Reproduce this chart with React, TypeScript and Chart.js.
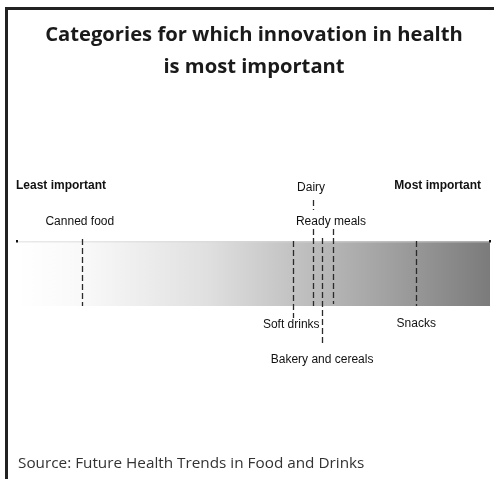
import React, { useEffect, useRef } from "react";
import { Chart, registerables } from "chart.js";

Chart.register(...registerables);

// ---- data ----
const categories = ["Canned food", "Soft drinks", "Dairy", "Bakery and cereals", "Ready meals", "Snacks"];
const scores = [13.7, 58.3, 62.6, 64.5, 66.8, 84.4];
const scaleRange = [0, 100];
const scaleEndLabels = ["Least important", "Most important"];
const titleLines = ["Categories for which innovation in health", "is most important"];
const sourceText = "Source: Future Health Trends in Food and Drinks";

// ---- styling (label placement relative to the bar, in px) ----
const placements: Record<string, { labelRef: "top" | "bottom"; labelDy: number; segs: [["top" | "bottom", number], ["top" | "bottom", number]][]; dx: number }> = {
  "Canned food": { labelRef: "top", labelDy: -19, segs: [[["top", -2], ["bottom", 0]]], dx: -2 },
  "Soft drinks": { labelRef: "bottom", labelDy: 19, segs: [[["top", 0], ["bottom", 12]]], dx: -1.5 },
  "Dairy": { labelRef: "top", labelDy: -53, segs: [[["top", -41], ["top", -31]], [["top", -12], ["bottom", 0]]], dx: -2 },
  "Bakery and cereals": { labelRef: "bottom", labelDy: 54, segs: [[["top", -3], ["bottom", 39]]], dx: 0 },
  "Ready meals": { labelRef: "top", labelDy: -19, segs: [[["top", -12], ["bottom", -2]]], dx: -2 },
  "Snacks": { labelRef: "bottom", labelDy: 18, segs: [[["top", 0], ["bottom", 0]]], dx: 0 },
};

const markersPlugin = {
  id: "markers",
  afterDatasetsDraw(chart: any) {
    const { ctx, chartArea: ca, scales } = chart;
    const xs = scales.x;
    const top = ca.top;
    const bottom = ca.bottom;
    const ref = (r: "top" | "bottom", d: number) => (r === "top" ? top : bottom) + d;
    ctx.save();
    // thin top edge
    ctx.fillStyle = "rgba(215,215,215,0.55)";
    ctx.fillRect(ca.left, top, ca.right - ca.left, 1.5);
    // end dots
    ctx.fillStyle = "#111";
    ctx.fillRect(xs.getPixelForValue(scaleRange[0]) - 1, top - 1, 2, 2.5);
    ctx.fillRect(xs.getPixelForValue(scaleRange[1]) - 1, top - 1, 2, 2.5);
    // dashed lines
    ctx.strokeStyle = "#2a2a2a";
    ctx.lineWidth = 1.3;
    ctx.setLineDash([6, 3]);
    categories.forEach((c, i) => {
      const p = placements[c];
      const x = Math.round(xs.getPixelForValue(scores[i])) + 0.5;
      p.segs.forEach(([a, b]) => {
        ctx.beginPath();
        ctx.moveTo(x, ref(a[0], a[1]));
        ctx.lineTo(x, ref(b[0], b[1]));
        ctx.stroke();
      });
    });
    ctx.setLineDash([]);
    // category labels
    ctx.fillStyle = "#111";
    ctx.textAlign = "center";
    ctx.textBaseline = "middle";
    ctx.font = "12px 'Liberation Sans', Arial, sans-serif";
    categories.forEach((c, i) => {
      const p = placements[c];
      const x = xs.getPixelForValue(scores[i]) + p.dx;
      ctx.fillText(c, x, ref(p.labelRef, p.labelDy));
    });
    // end labels
    ctx.font = "bold 12px 'Liberation Sans', Arial, sans-serif";
    ctx.textAlign = "left";
    ctx.fillText(scaleEndLabels[0], xs.getPixelForValue(scaleRange[0]) - 1, top - 55);
    ctx.textAlign = "right";
    ctx.fillText(scaleEndLabels[1], xs.getPixelForValue(scaleRange[1]) - 9, top - 55);
    ctx.restore();
  },
};

export default function App() {
  const ref = useRef<HTMLCanvasElement>(null);
  useEffect(() => {
    if (!ref.current) return;
    const chart = new Chart(ref.current, {
      type: "bar",
      data: {
        labels: ["scale"],
        datasets: [
          {
            data: [[scaleRange[0], scaleRange[1]]] as any,
            backgroundColor: (c: any) => {
              const ca = c.chart.chartArea;
              if (!ca) return "#ccc";
              const g = c.chart.ctx.createLinearGradient(ca.left, 0, ca.right, 0);
              g.addColorStop(0, "#ffffff");
              g.addColorStop(0.15, "#f8f8f8");
              g.addColorStop(0.4, "#e0e0e0");
              g.addColorStop(0.58, "#c3c3c3");
              g.addColorStop(0.78, "#a2a2a2");
              g.addColorStop(1, "#7b7b7b");
              return g;
            },
            borderWidth: 0,
            barPercentage: 1,
            categoryPercentage: 1,
          } as any,
        ],
      },
      options: {
        indexAxis: "y",
        responsive: false,
        animation: false,
        layout: { padding: { left: 17, right: 4, top: 241, bottom: 173 } },
        scales: {
          x: { type: "linear", min: scaleRange[0], max: scaleRange[1], display: false },
          y: { display: false },
        },
        plugins: { legend: { display: false }, tooltip: { enabled: false }, title: { display: false } },
      },
      plugins: [markersPlugin],
    });
    return () => chart.destroy();
  }, []);

  return (
    <div style={{ position: "absolute", left: 0, top: 0, width: 494, height: 479, background: "#fff", overflow: "hidden" }}>
      <canvas ref={ref} width={494} height={479} style={{ position: "absolute", left: 0, top: 0 }} />
      <div style={{ position: "absolute", left: 5, top: 7, width: 489, height: 472, borderLeft: "3px solid #222", borderTop: "3px solid #222", boxSizing: "border-box" }} />
      <div
        style={{
          position: "absolute",
          left: 7,
          top: 17,
          width: 494,
          textAlign: "center",
          fontFamily: "'Open Sans', sans-serif",
          fontWeight: 700,
          fontSize: 20.2,
          lineHeight: "32px",
          color: "#1a1a1a",
          whiteSpace: "nowrap",
        }}
      >
        {titleLines.map((t) => (
          <div key={t}>{t}</div>
        ))}
      </div>
      <div
        style={{
          position: "absolute",
          left: 18,
          top: 453,
          fontFamily: "'Open Sans', sans-serif",
          fontSize: 15.3,
          lineHeight: "18px",
          color: "#333",
          whiteSpace: "nowrap",
        }}
      >
        {sourceText}
      </div>
    </div>
  );
}
